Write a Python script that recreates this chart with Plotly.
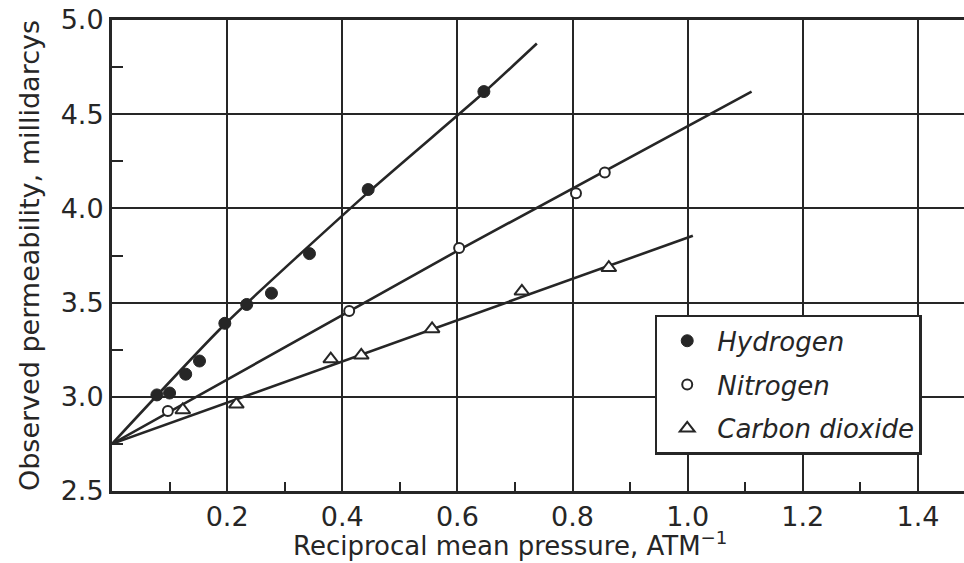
import plotly.graph_objects as go

# Data
h2_x = [0.078, 0.100, 0.128, 0.152, 0.196, 0.234, 0.277, 0.343, 0.445, 0.646]
h2_y = [3.01, 3.02, 3.12, 3.19, 3.39, 3.49, 3.55, 3.76, 4.10, 4.62]
n2_x = [0.097, 0.412, 0.603, 0.806, 0.856]
n2_y = [2.925, 3.456, 3.79, 4.08, 4.19]
co2_x = [0.123, 0.216, 0.380, 0.433, 0.556, 0.712, 0.863]
co2_y = [2.93, 2.96, 3.20, 3.22, 3.36, 3.56, 3.685]

# Hand-drawn fitted curves through the data
h2_line_x = [0.0, 0.196, 0.445, 0.646, 0.738]
h2_line_y = [2.75, 3.385, 4.085, 4.615, 4.875]
n2_line_x = [0.0, 0.603, 1.111]
n2_line_y = [2.75, 3.78, 4.62]
co2_line_x = [0.0, 1.009]
co2_line_y = [2.75, 3.855]

x_ticks = [0.2, 0.4, 0.6, 0.8, 1.0, 1.2, 1.4]
x_tick_labels = ["0.2", "0.4", "0.6", "0.8", "1.0", "1.2", "1.4"]
x_minor = [0.1, 0.3, 0.5, 0.7, 0.9, 1.1, 1.3]
y_ticks = [2.5, 3.0, 3.5, 4.0, 4.5, 5.0]
y_tick_labels = ["2.5", "3.0", "3.5", "4.0", "4.5", "5.0"]
y_minor = [2.75, 3.25, 3.75, 4.25, 4.75]

x_title = "Reciprocal mean pressure, ATM<sup>\u22121</sup>"
y_title = "Observed permeability, millidarcys"

INK = "#262626"
FONT = "DejaVu Sans"

fig = go.Figure()
for lx, ly in [(h2_line_x, h2_line_y), (n2_line_x, n2_line_y), (co2_line_x, co2_line_y)]:
    fig.add_trace(go.Scatter(x=lx, y=ly, mode="lines",
                             line=dict(color=INK, width=2.6, shape="spline", smoothing=0.6),
                             showlegend=False, hoverinfo="skip"))

fig.add_trace(go.Scatter(x=h2_x, y=h2_y, mode="markers", name="Hydrogen", legendgroup="a",
                         marker=dict(symbol="circle", size=12, color=INK,
                                     line=dict(color=INK, width=1))))
fig.add_trace(go.Scatter(x=n2_x, y=n2_y, mode="markers", name="Nitrogen", legendgroup="b",
                         marker=dict(symbol="circle", size=10, color="white",
                                     line=dict(color=INK, width=2))))
fig.add_trace(go.Scatter(x=co2_x, y=co2_y, mode="markers", name="Carbon dioxide", legendgroup="c",
                         marker=dict(symbol="triangle-up", size=13, color="white",
                                     line=dict(color=INK, width=2))))

fig.update_layout(
    width=964, height=563,
    margin=dict(l=112, r=0, t=20, b=72),
    paper_bgcolor="white", plot_bgcolor="white",
    font=dict(family=FONT, color=INK, size=22),
    showlegend=True,
    legend=dict(
        x=0.637, y=0.374, xanchor="left", yanchor="top",
        bgcolor="white", bordercolor=INK, borderwidth=2.5,
        font=dict(family=FONT, size=26, color=INK, style="italic"),
        tracegroupgap=7, itemwidth=50,
        entrywidth=302, entrywidthmode="pixels",
    ),
    xaxis=dict(
        range=[0, 1.48], tickvals=x_ticks, ticktext=x_tick_labels,
        showgrid=True, gridcolor=INK, gridwidth=2.2,
        showline=True, linecolor=INK, linewidth=3, mirror=True,
        ticks="", zeroline=False,
        tickfont=dict(size=27),
        minor=dict(tickvals=x_minor, ticks="inside",
                   ticklen=9, tickwidth=2, tickcolor=INK, showgrid=False),
    ),
    yaxis=dict(
        range=[2.5, 5.0], tickvals=y_ticks, ticktext=y_tick_labels,
        showgrid=True, gridcolor=INK, gridwidth=2.2,
        showline=True, linecolor=INK, linewidth=3,
        ticks="", zeroline=False,
        tickfont=dict(size=27),
        minor=dict(tickvals=y_minor, ticks="inside",
                   ticklen=11, tickwidth=2, tickcolor=INK, showgrid=False),
        title=dict(text=y_title, font=dict(size=27), standoff=14),
    ),
    annotations=[dict(text=x_title, xref="paper", yref="paper", x=0.467, y=-0.112,
                      xanchor="center", yanchor="middle", showarrow=False,
                      font=dict(size=26, family=FONT, color=INK))],
)

fig.write_html("out.html")
